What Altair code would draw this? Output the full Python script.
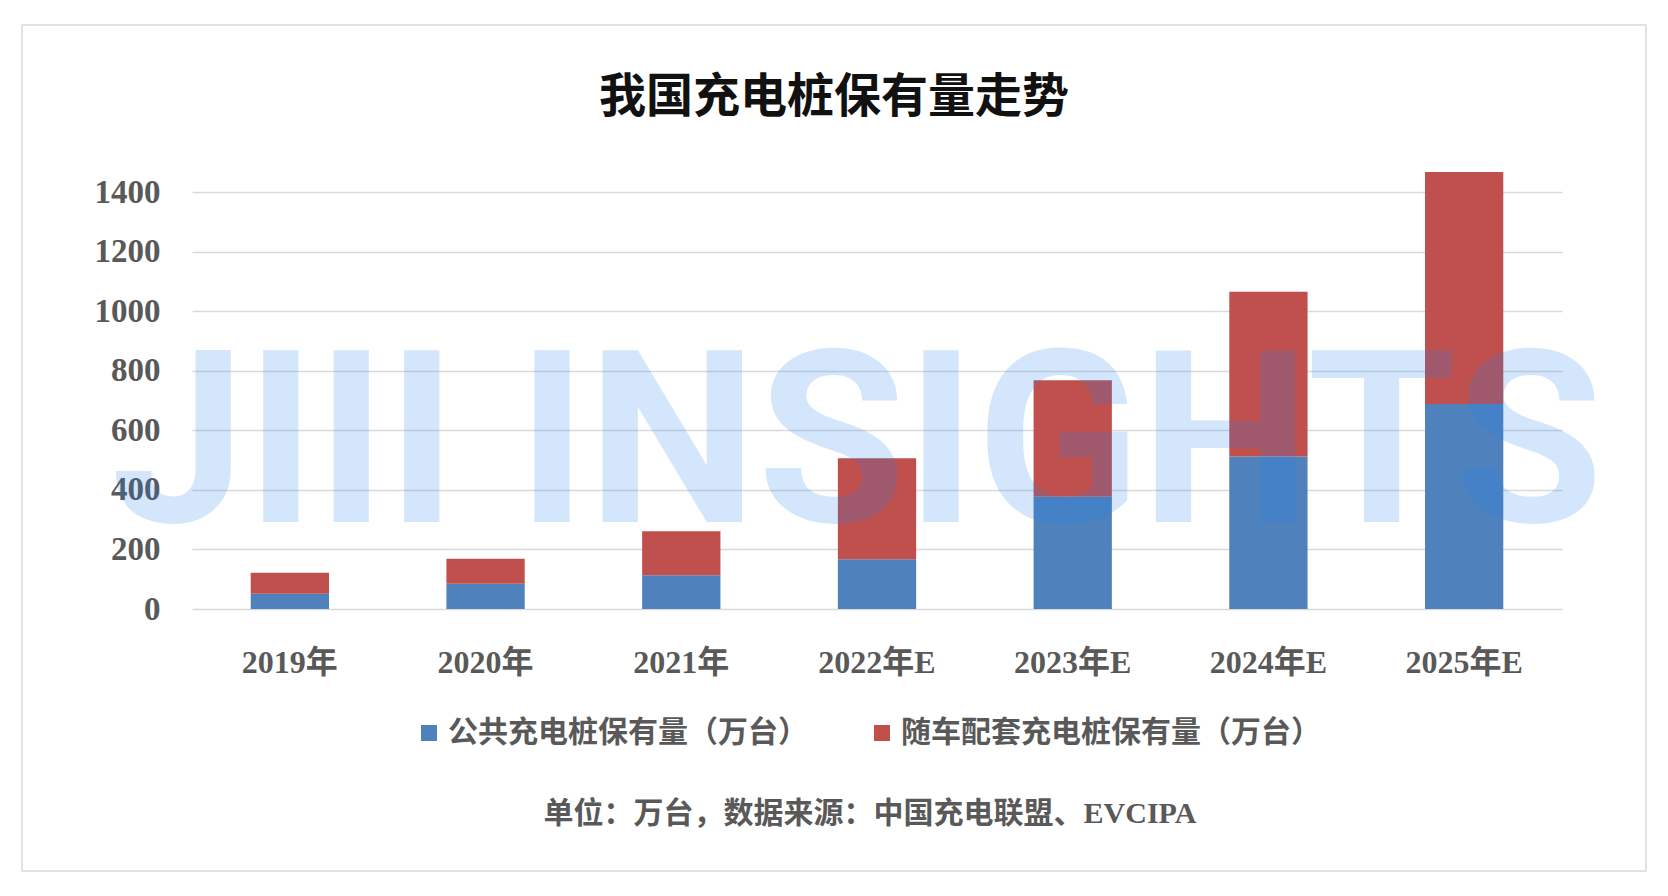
import altair as alt
import pandas as pd

years = ["2019年", "2020年", "2021年", "2022年E", "2023年E", "2024年E", "2025年E"]
public = [51.6, 85, 113, 167, 377, 512, 688]
onboard = [70, 84, 148, 339, 391, 553, 779]
series = ["公共充电桩保有量（万台）", "随车配套充电桩保有量（万台）"]
colors = ["#4f81bd", "#c0504d"]
y_ticks = [0, 200, 400, 600, 800, 1000, 1200, 1400]
title_text = "我国充电桩保有量走势"
source_text = "单位：万台，数据来源：中国充电联盟、EVCIPA"
watermark_text = "JIII INSIGHTS"

rows = []
for i, yr in enumerate(years):
    rows.append({"year": yr, "series": series[0], "value": public[i], "ord": 0})
    rows.append({"year": yr, "series": series[1], "value": onboard[i], "ord": 1})
df = pd.DataFrame(rows)
one = pd.DataFrame({"t": [0]})

W, H = 1370, 417
PL, PT = 184, 184
FONT = "Liberation Serif, Noto Sans CJK SC"
GRAY = "#595959"

bars = alt.Chart(df).mark_bar().encode(
    x=alt.X("year:N", sort=years,
            scale=alt.Scale(paddingInner=0.6, paddingOuter=0.3),
            axis=alt.Axis(title=None, labelAngle=0, ticks=False, tickSize=0, domain=False,
                          labelFont=FONT, labelFontSize=32, labelFontWeight="bold",
                          labelColor=GRAY, labelPadding=53, labelBaseline="middle")),
    y=alt.Y("value:Q", stack="zero",
            scale=alt.Scale(domain=[0, 1400], nice=False),
            axis=alt.Axis(title=None, values=y_ticks, format="d", ticks=False, tickSize=0,
                          domain=False, labelFont=FONT, labelFontSize=33,
                          labelFontWeight="bold", labelColor=GRAY, labelPadding=32,
                          gridColor="#d9d9d9", gridWidth=1.5)),
    color=alt.Color("series:N", scale=alt.Scale(domain=series, range=colors),
                    legend=alt.Legend(title=None, orient="none", legendX=222, legendY=526,
                                      direction="horizontal", symbolType="square",
                                      symbolSize=256, symbolStrokeWidth=0,
                                      labelFont=FONT, labelFontSize=30, labelFontWeight="bold",
                                      labelColor=GRAY, labelOffset=4, columnPadding=59,
                                      padding=0, labelLimit=600)),
    order=alt.Order("ord:Q", sort="ascending"),
)

watermark = alt.Chart(one).mark_text(
    text=watermark_text, font="Roboto, Open Sans, sans-serif",
    fontSize=241, fontWeight="bold", color="#1d81ef", opacity=0.19,
    align="center", baseline="alphabetic",
).encode(x=alt.value(857 - PL - 8), y=alt.value(522 - PT - 8))

border = alt.Chart(one).mark_rect(fill=None, stroke="#d9d9d9", strokeWidth=1.5).encode(
    x=alt.value(22 - PL - 8), x2=alt.value(1646 - PL - 8),
    y=alt.value(25 - PT - 8), y2=alt.value(871 - PT - 8)
)

title = alt.Chart(one).mark_text(
    text=title_text, font=FONT, fontSize=47, fontWeight="bold", color="#111111",
    align="center", baseline="middle",
).encode(x=alt.value(834 - PL - 8), y=alt.value(98 - PT - 8))

footer = alt.Chart(one).mark_text(
    text=source_text, font=FONT, fontSize=30, fontWeight="bold", color=GRAY,
    align="center", baseline="middle",
).encode(x=alt.value(870 - PL - 8), y=alt.value(814 - PT - 8))

chart = alt.layer(bars, watermark, border, title, footer).properties(
    width=W, height=H,
    autosize=alt.AutoSizeParams(type="none"),
    padding={"left": PL, "top": PT, "right": 1652 - PL - W, "bottom": 880 - PT - H},
    background="white",
).configure_view(stroke=None)

chart.save("out.html", embed_options={"renderer": "svg", "actions": False})
